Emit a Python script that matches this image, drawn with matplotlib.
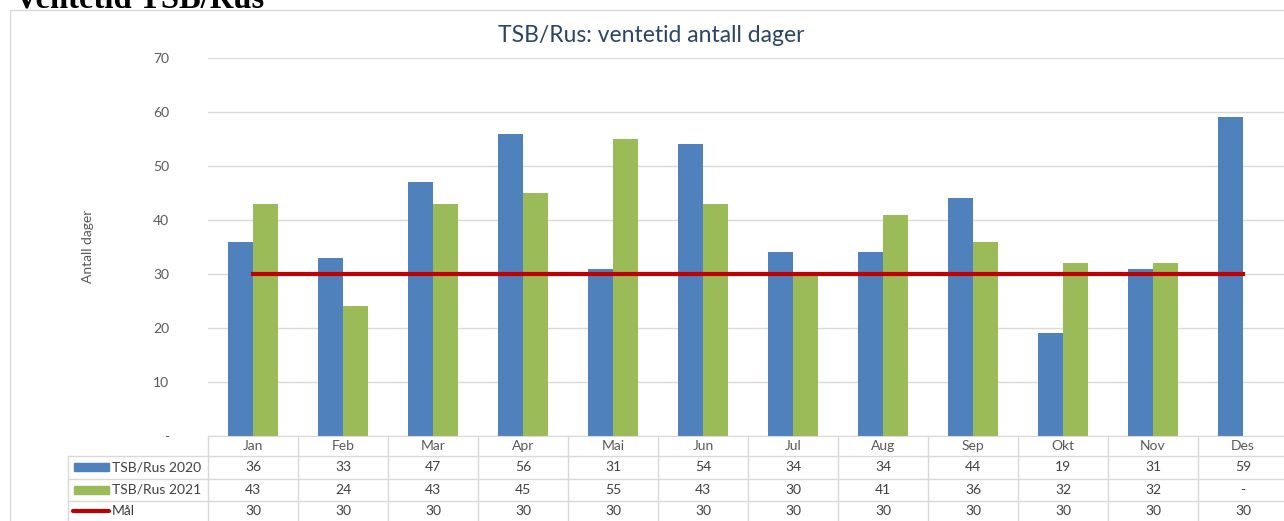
import matplotlib
matplotlib.use('Agg')
import matplotlib.pyplot as plt
import matplotlib.transforms as mtransforms
from matplotlib.patches import Rectangle
from matplotlib.lines import Line2D
import numpy as np

plt.rcParams['font.family'] = ['Lato', 'DejaVu Sans']

# data
months = ['Jan', 'Feb', 'Mar', 'Apr', 'Mai', 'Jun', 'Jul', 'Aug', 'Sep', 'Okt', 'Nov', 'Des']
tsb_2020 = [36, 33, 47, 56, 31, 54, 34, 34, 44, 19, 31, 59]
tsb_2021 = [43, 24, 43, 45, 55, 43, 30, 41, 36, 32, 32, np.nan]
maal = [30, 30, 30, 30, 30, 30, 30, 30, 30, 30, 30, 30]
yticks = [0, 10, 20, 30, 40, 50, 60, 70]

c_blue = '#4F81BD'
c_green = '#9BBB59'
c_red = '#C00000'
c_grid = '#D9D9D9'
c_text = '#404040'

W, H = 1284, 521
fig = plt.figure(figsize=(W / 100, H / 100), dpi=100)


def fx(p):
    return p / W


def fy(p):
    return 1 - p / H


# plotområde
ax = fig.add_axes([fx(208), fy(436), fx(1080), (436 - 58) / H])
x = np.arange(len(months))
w = 0.28
ax.bar(x - w / 2, tsb_2020, w, color=c_blue, zorder=2)
ax.bar(x + w / 2, tsb_2021, w, color=c_green, zorder=2)
ax.plot(x, maal, color=c_red, lw=3, zorder=3)

ax.set_xlim(-0.5, 11.5)
ax.set_ylim(0, 70)
ax.set_yticks(yticks)
ax.set_yticklabels(['-' if t == 0 else str(t) for t in yticks])
ax.tick_params(axis='y', length=0, pad=28, labelsize=10, labelcolor='#595959')
ax.set_xticks([])
ax.grid(axis='y', color=c_grid, lw=1, zorder=0)
for s in ['top', 'right', 'left']:
    ax.spines[s].set_visible(False)
ax.spines['bottom'].set_color(c_grid)

# ramme rundt diagrammet
fig.patches.append(Rectangle((fx(10), fy(521 + 5)), fx(1300), (521 + 5 - 10) / H,
                             transform=fig.transFigure, fill=False, ec=c_grid, lw=1))

fig.text(fx(651), fy(35), 'TSB/Rus: ventetid antall dager', ha='center', va='center',
         fontsize=16.5, color='#2B4565')
fig.text(fx(88), fy(246), 'Antall dager', rotation=90, ha='center', va='center',
         fontsize=10, color='#595959')
fig.text(fx(15), fy(8), 'Ventetid TSB/Rus', ha='left', va='baseline', fontsize=23.5,
         fontweight='bold', family='Liberation Serif', color='black')

# datatabell
row_lines = [456, 479, 501]
for p in row_lines:
    fig.add_artist(Line2D([fx(68), 1], [fy(p), fy(p)], color=c_grid, lw=1,
                          transform=fig.transFigure))
fig.add_artist(Line2D([fx(68), fx(68)], [fy(456), 0], color=c_grid, lw=1,
                      transform=fig.transFigure))
trans = mtransforms.blended_transform_factory(ax.transData, fig.transFigure)
for i in range(len(months) + 1):
    fig.add_artist(Line2D([i - 0.5, i - 0.5], [fy(436), 0], color=c_grid, lw=1,
                          transform=trans))

for i, m in enumerate(months):
    fig.text(i, fy(446), m, transform=trans, ha='center', va='center', fontsize=10,
             color='#595959')
    fig.text(i, fy(467), str(tsb_2020[i]), transform=trans, ha='center', va='center',
             fontsize=10, color=c_text)
    v = tsb_2021[i]
    fig.text(i, fy(490), '-' if np.isnan(v) else str(int(v)), transform=trans,
             ha='center', va='center', fontsize=10, color=c_text)
    fig.text(i, fy(511), str(maal[i]), transform=trans, ha='center', va='center',
             fontsize=10, color=c_text)

# forklaringer i tabellen
fig.patches.append(Rectangle((fx(74), fy(471)), fx(35), 8 / H, transform=fig.transFigure,
                             color=c_blue))
fig.patches.append(Rectangle((fx(74), fy(494)), fx(35), 8 / H, transform=fig.transFigure,
                             color=c_green))
fig.add_artist(Line2D([fx(73), fx(109)], [fy(511), fy(511)], color=c_red, lw=3,
                      solid_capstyle='round', transform=fig.transFigure))
fig.text(fx(112), fy(467), 'TSB/Rus 2020', ha='left', va='center', fontsize=10, color=c_text)
fig.text(fx(112), fy(490), 'TSB/Rus 2021', ha='left', va='center', fontsize=10, color=c_text)
fig.text(fx(112), fy(511), 'Mål', ha='left', va='center', fontsize=10, color=c_text)

fig.savefig('out.png', dpi=100)
